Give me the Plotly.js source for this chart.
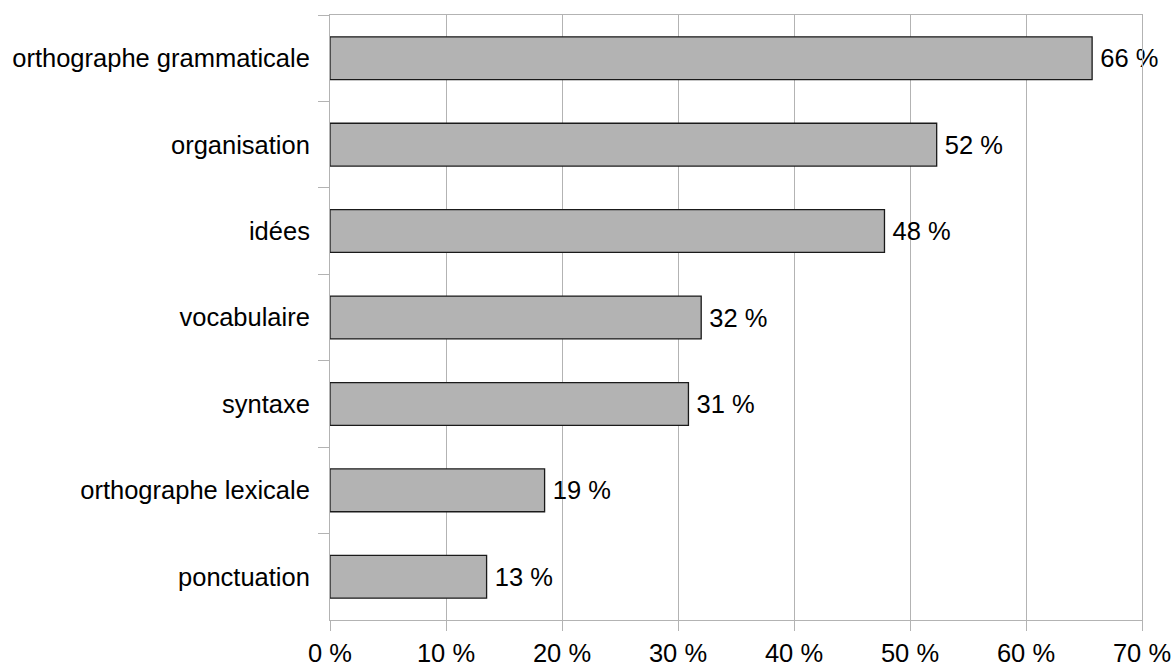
<!DOCTYPE html>
<html>
<head>
<meta charset="utf-8">
<script src="https://cdn.plot.ly/plotly-3.0.1.min.js"></script>
<style>html,body{margin:0;padding:0;background:#fff;}#chart{width:1174px;height:665px;}</style>
</head>
<body>
<div id="chart"></div>
<script>
var categories = ["orthographe grammaticale", "organisation", "idées", "vocabulaire", "syntaxe", "orthographe lexicale", "ponctuation"];
var values = [65.7, 52.3, 47.8, 32.0, 30.9, 18.5, 13.5];
var labels = ["66 %", "52 %", "48 %", "32 %", "31 %", "19 %", "13 %"];
var xTickVals = [0, 10, 20, 30, 40, 50, 60, 70];
var xTickText = ["0 %", "10 %", "20 %", "30 %", "40 %", "50 %", "60 %", "70 %"];

var font = "Liberation Sans, Arial, sans-serif";
var trace = {
  type: "bar",
  orientation: "h",
  x: values,
  y: categories,
  text: labels.map(function(t){ return "\u2009" + t; }),
  textposition: "outside",
  cliponaxis: false,
  constraintext: "none",
  textfont: {family: font, size: 25.5, color: "#000"},
  marker: {color: "#b3b3b3", line: {color: "#1a1a1a", width: 1.3}},
  hoverinfo: "none"
};
var layout = {
  width: 1174,
  height: 665,
  margin: {l: 330, r: 32, t: 15, b: 45},
  paper_bgcolor: "#fff",
  plot_bgcolor: "#fff",
  showlegend: false,
  bargap: 0.505,
  font: {family: font, size: 25.5, color: "#000"},
  xaxis: {
    range: [0, 70],
    tickvals: xTickVals,
    ticktext: xTickText,
    showgrid: true,
    gridcolor: "#b3b3b3",
    gridwidth: 1,
    zeroline: false,
    showline: true,
    linecolor: "#b3b3b3",
    linewidth: 1,
    mirror: true,
    ticks: "outside",
    ticklen: 10,
    tickcolor: "#b3b3b3",
    tickfont: {family: font, size: 25.5, color: "#000"}
  },
  yaxis: {
    autorange: "reversed",
    type: "category",
    tickson: "boundaries",
    ticks: "outside",
    ticklen: 11,
    tickcolor: "#b3b3b3",
    ticklabelstandoff: 14,
    showgrid: false,
    zeroline: false,
    showline: true,
    linecolor: "#b3b3b3",
    linewidth: 1,
    mirror: true,
    tickfont: {family: font, size: 25.5, color: "#000"}
  }
};
Plotly.newPlot("chart", [trace], layout, {displayModeBar: false, staticPlot: true});
</script>
</body>
</html>
